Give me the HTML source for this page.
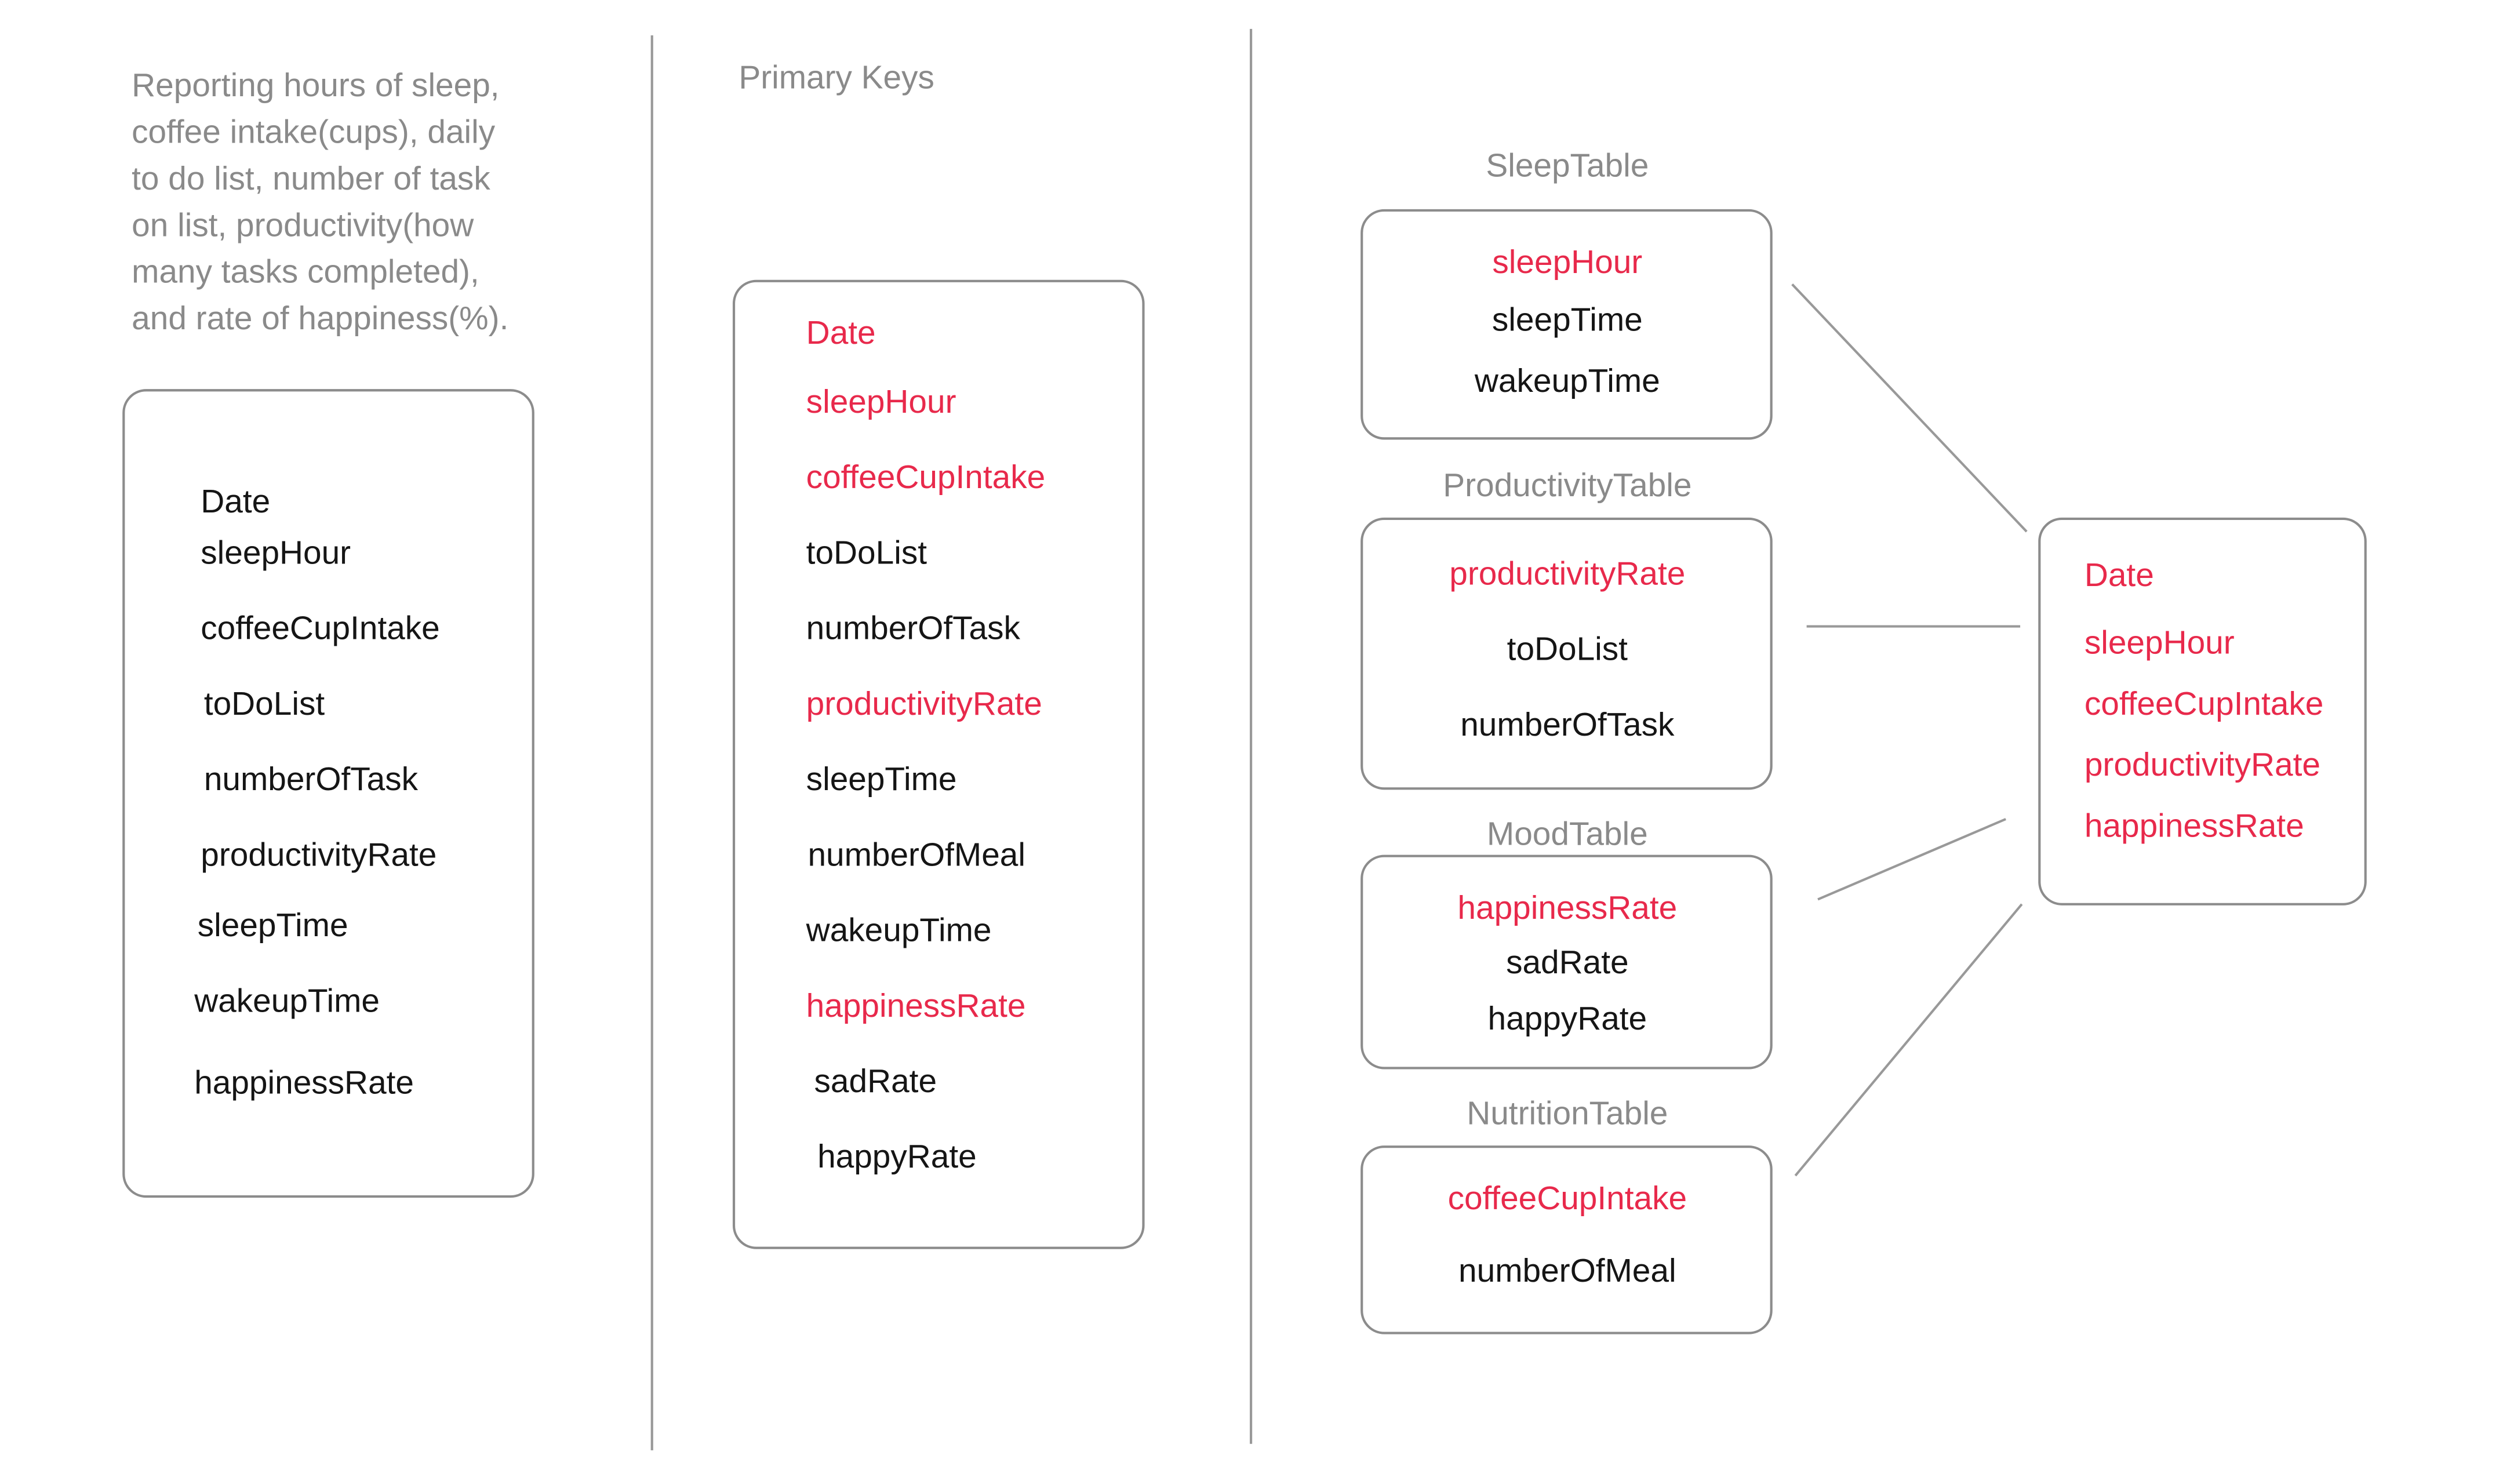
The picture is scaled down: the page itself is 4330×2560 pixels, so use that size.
<!DOCTYPE html>
<html><head><meta charset="utf-8"><style>
html,body{margin:0;padding:0;background:#fff;}
svg{display:block;}
text{font-family:"Liberation Sans",sans-serif;font-size:20.5px;}
.g{fill:#8a8a8a;}
.k{fill:#151515;}
.r{fill:#e8294b;}
.c{text-anchor:middle;}
rect{fill:none;stroke:#8c8c8c;stroke-width:1.5;}
line{stroke:#999;stroke-width:1.5;}
</style></head><body>
<svg width="4330" height="2560" viewBox="0 0 1563 924" preserveAspectRatio="none" xmlns="http://www.w3.org/2000/svg">
<g class="g">
<text x="82" y="60">Reporting hours of sleep,</text>
<text x="82" y="89">coffee intake(cups), daily</text>
<text x="82" y="118">to do list, number of task</text>
<text x="82" y="147">on list, productivity(how</text>
<text x="82" y="176">many tasks completed),</text>
<text x="82" y="205">and rate of happiness(%).</text>
<text x="460" y="55">Primary Keys</text>
<text class="c" x="976" y="110">SleepTable</text>
<text class="c" x="976" y="309">ProductivityTable</text>
<text class="c" x="976" y="526">MoodTable</text>
<text class="c" x="976" y="700">NutritionTable</text>
</g>
<line x1="406" y1="22" x2="406" y2="903"/>
<line x1="779" y1="18" x2="779" y2="899"/>
<rect x="77" y="243" width="255" height="502" rx="14"/>
<rect x="457" y="175" width="255" height="602" rx="14"/>
<rect x="848" y="131" width="255" height="142" rx="14"/>
<rect x="848" y="323" width="255" height="168" rx="14"/>
<rect x="848" y="533" width="255" height="132" rx="14"/>
<rect x="848" y="714" width="255" height="116" rx="14"/>
<rect x="1270" y="323" width="203" height="240" rx="14"/>
<line x1="1116" y1="177" x2="1262" y2="331"/>
<line x1="1125" y1="390" x2="1258" y2="390"/>
<line x1="1132" y1="560" x2="1249" y2="510"/>
<line x1="1118" y1="732" x2="1259" y2="563"/>
<g class="k">
<text x="125" y="319">Date</text>
<text x="125" y="351">sleepHour</text>
<text x="125" y="398">coffeeCupIntake</text>
<text x="127" y="445">toDoList</text>
<text x="127" y="492">numberOfTask</text>
<text x="125" y="539">productivityRate</text>
<text x="123" y="583">sleepTime</text>
<text x="121" y="630">wakeupTime</text>
<text x="121" y="681">happinessRate</text>
<text x="502" y="351">toDoList</text>
<text x="502" y="398">numberOfTask</text>
<text x="502" y="492">sleepTime</text>
<text x="503" y="539">numberOfMeal</text>
<text x="502" y="586">wakeupTime</text>
<text x="507" y="680">sadRate</text>
<text x="509" y="727">happyRate</text>
<text class="c" x="976" y="206">sleepTime</text>
<text class="c" x="976" y="244">wakeupTime</text>
<text class="c" x="976" y="411">toDoList</text>
<text class="c" x="976" y="458">numberOfTask</text>
<text class="c" x="976" y="606">sadRate</text>
<text class="c" x="976" y="641">happyRate</text>
<text class="c" x="976" y="798">numberOfMeal</text>
</g>
<g class="r">
<text x="502" y="214">Date</text>
<text x="502" y="257">sleepHour</text>
<text x="502" y="304">coffeeCupIntake</text>
<text x="502" y="445">productivityRate</text>
<text x="502" y="633">happinessRate</text>
<text class="c" x="976" y="170">sleepHour</text>
<text class="c" x="976" y="364">productivityRate</text>
<text class="c" x="976" y="572">happinessRate</text>
<text class="c" x="976" y="753">coffeeCupIntake</text>
<text x="1298" y="365">Date</text>
<text x="1298" y="407">sleepHour</text>
<text x="1298" y="445">coffeeCupIntake</text>
<text x="1298" y="483">productivityRate</text>
<text x="1298" y="521">happinessRate</text>
</g>
</svg>
</body></html>
